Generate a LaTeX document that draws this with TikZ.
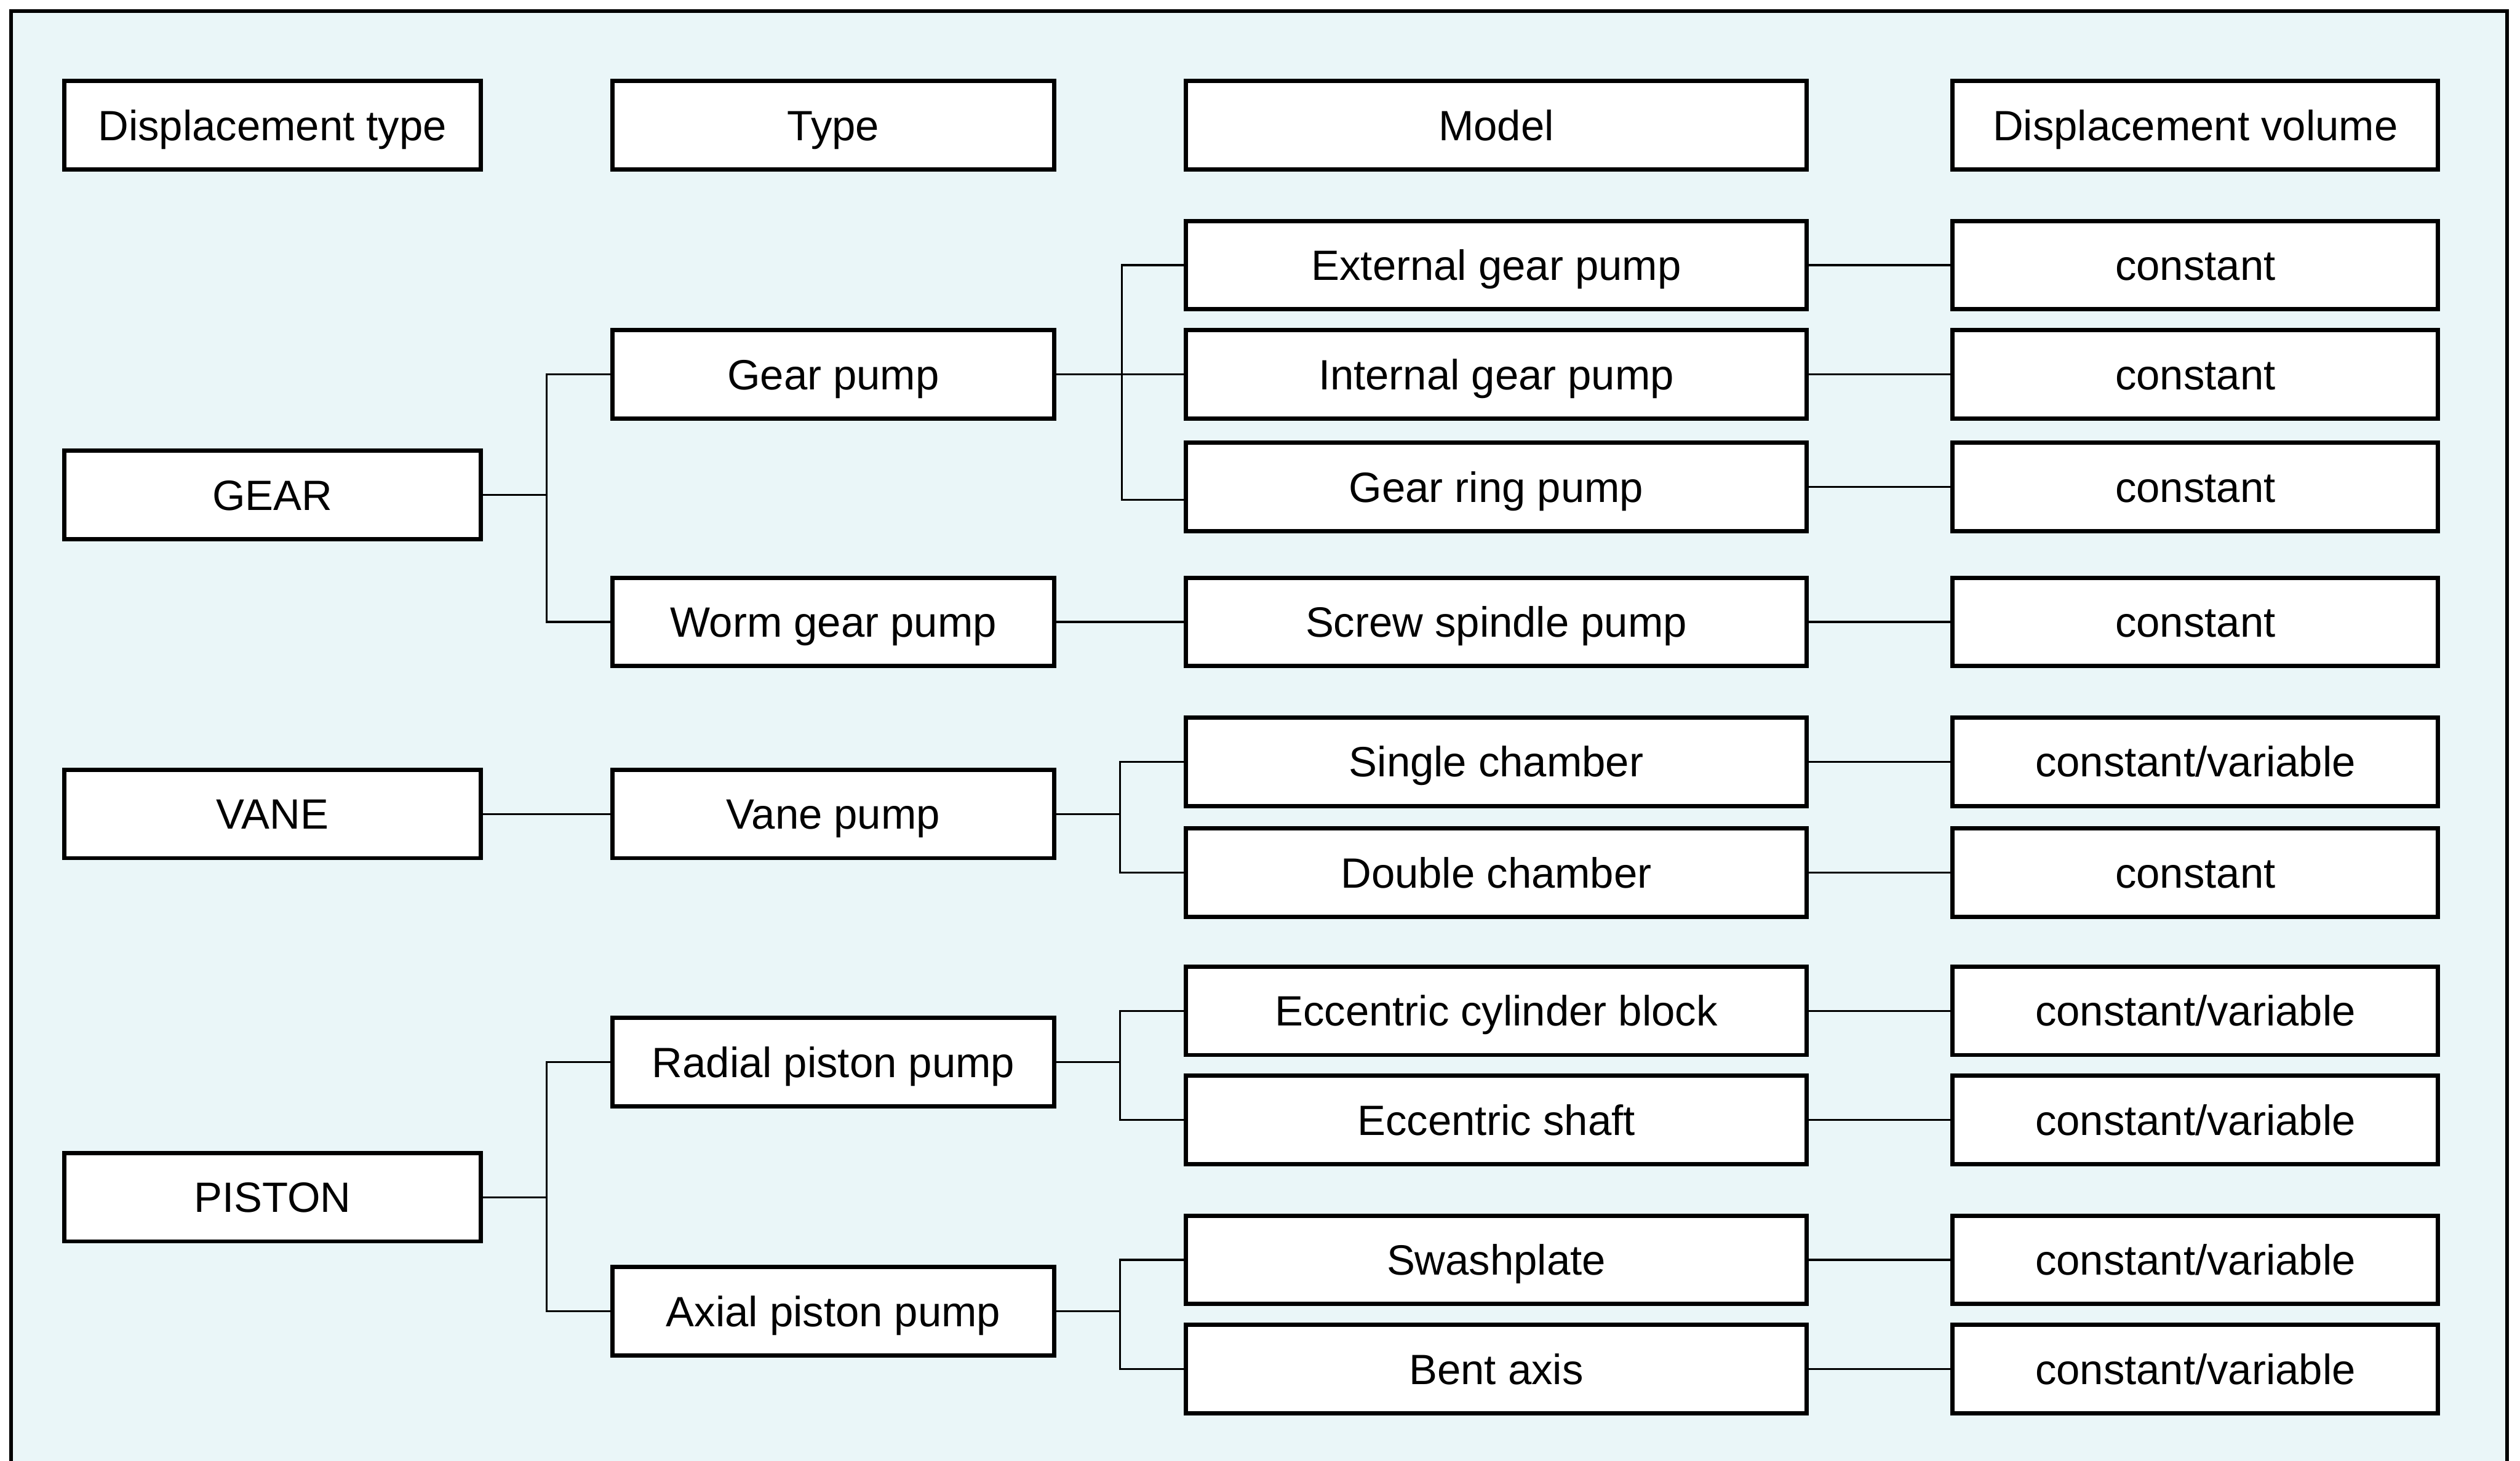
\documentclass[tikz,border=0pt]{standalone}
\usepackage{fontspec}
\setmainfont{Liberation Sans}
\definecolor{panel}{HTML}{EAF6F8}
\begin{document}
\begin{tikzpicture}[x=0.2mm,y=-0.2mm,
  box/.style={draw=black,fill=white,line width=1.5pt,inner sep=0pt,
    minimum height=11mm,text height=10.7pt,text depth=0pt,
    font=\fontsize{15}{18}\selectfont},
  colA/.style={box,minimum width=51.8mm},
  colB/.style={box,minimum width=55mm},
  colC/.style={box,minimum width=77.2mm},
  colD/.style={box,minimum width=60.4mm},
  conn/.style={draw=black,line width=0.7pt}]
\useasboundingbox (0,0) rectangle (1568,909);
\fill[white] (0,0) rectangle (1568,909);
% panel with its frame (open at the bottom)
\fill[panel] (7,7) rectangle (1560,920);
\draw[line width=1.3pt] (7,920) -- (7,7) -- (1560,7) -- (1560,920);

% column headings
\node[colA] (h1) at (169.5,78) {Displacement type};
\node[colB] (h2) at (518.5,78) {Type};
\node[colC] (h3) at (931,78) {Model};
\node[colD] (h4) at (1366,78) {Displacement volume};

% displacement types
\node[colA] (gear) at (169.5,308) {GEAR};
\node[colA] (vane) at (169.5,506.5) {VANE};
\node[colA] (piston) at (169.5,745) {PISTON};

% pump types
\node[colB] (gp) at (518.5,233) {Gear pump};
\node[colB] (wgp) at (518.5,387) {Worm gear pump};
\node[colB] (vp) at (518.5,506.5) {Vane pump};
\node[colB] (rpp) at (518.5,661) {Radial piston pump};
\node[colB] (app) at (518.5,816) {Axial piston pump};

% models
\node[colC] (m1) at (931,165) {External gear pump};
\node[colC] (m2) at (931,233) {Internal gear pump};
\node[colC] (m3) at (931,303) {Gear ring pump};
\node[colC] (m4) at (931,387) {Screw spindle pump};
\node[colC] (m5) at (931,474) {Single chamber};
\node[colC] (m6) at (931,543) {Double chamber};
\node[colC] (m7) at (931,629) {Eccentric cylinder block};
\node[colC] (m8) at (931,697) {Eccentric shaft};
\node[colC] (m9) at (931,784) {Swashplate};
\node[colC] (m10) at (931,852) {Bent axis};

% displacement volumes
\node[colD] (v1) at (1366,165) {constant};
\node[colD] (v2) at (1366,233) {constant};
\node[colD] (v3) at (1366,303) {constant};
\node[colD] (v4) at (1366,387) {constant};
\node[colD] (v5) at (1366,474) {constant/variable};
\node[colD] (v6) at (1366,543) {constant};
\node[colD] (v7) at (1366,629) {constant/variable};
\node[colD] (v8) at (1366,697) {constant/variable};
\node[colD] (v9) at (1366,784) {constant/variable};
\node[colD] (v10) at (1366,852) {constant/variable};

% junction points
\coordinate (jg) at (340,308);
\coordinate (jp) at (340,745);
\coordinate (jgp) at (698,233);
\coordinate (jvp) at (697,506.5);
\coordinate (jrp) at (697,661);
\coordinate (jap) at (697,816);

% first level
\draw[conn] (gear.east) -- (jg);
\draw[conn] (gp.west) -| (jg) |- (wgp.west);
\draw[conn] (vane.east) -- (vp.west);
\draw[conn] (piston.east) -- (jp);
\draw[conn] (rpp.west) -| (jp) |- (app.west);

% second level
\draw[conn] (gp.east) -- (m2.west);
\draw[conn] (m1.west) -| (jgp) |- ([yshift=-1.6mm]m3.west);
\draw[conn] (wgp.east) -- (m4.west);
\draw[conn] (vp.east) -- (jvp);
\draw[conn] (m5.west) -| (jvp) |- (m6.west);
\draw[conn] (rpp.east) -- (jrp);
\draw[conn] (m7.west) -| (jrp) |- (m8.west);
\draw[conn] (app.east) -- (jap);
\draw[conn] (m9.west) -| (jap) |- (m10.west);

% third level
\foreach \i in {1,...,10} {
  \draw[conn] (m\i.east) -- (v\i.west);
}
\end{tikzpicture}
\end{document}
